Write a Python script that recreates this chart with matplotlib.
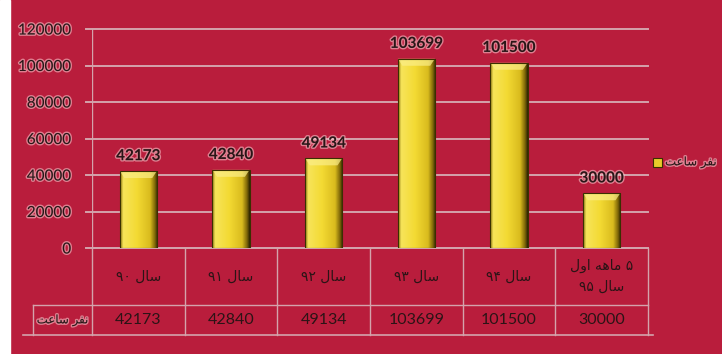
#!/usr/bin/env python3
import matplotlib
matplotlib.use("Agg")
import matplotlib.pyplot as plt
import matplotlib.patheffects as pe
import matplotlib.transforms as mtransforms
import numpy as np
from matplotlib.colors import LinearSegmentedColormap

# data
categories = ["سال ۹۰", "سال ۹۱", "سال ۹۲", "سال ۹۳", "سال ۹۴", "۵ ماهه اول\nسال ۹۵"]
values = [42173, 42840, 49134, 103699, 101500, 30000]
series_name = "نفر ساعت"
yticks = [0, 20000, 40000, 60000, 80000, 100000, 120000]

# tiny arabic shaper (matplotlib has no complex text layout)
FORMS = {  # isolated, final, initial, medial
    "س": "\uFEB1\uFEB2\uFEB3\uFEB4", "ل": "\uFEDD\uFEDE\uFEDF\uFEE0",
    "م": "\uFEE1\uFEE2\uFEE3\uFEE4", "ه": "\uFEE9\uFEEA\uFEEB\uFEEC",
    "ن": "\uFEE5\uFEE6\uFEE7\uFEE8", "ف": "\uFED1\uFED2\uFED3\uFED4",
    "ع": "\uFEC9\uFECA\uFECB\uFECC", "ت": "\uFE95\uFE96\uFE97\uFE98",
    "ا": "\uFE8D\uFE8E", "و": "\uFEED\uFEEE", "ر": "\uFEAD\uFEAE",
}

def shape_word(w):
    if not any(c in FORMS for c in w):
        return w
    out = []
    for i, c in enumerate(w):
        if c not in FORMS:
            out.append(c)
            continue
        prev = w[i - 1] if i > 0 else None
        nxt = w[i + 1] if i < len(w) - 1 else None
        jp = prev in FORMS and len(FORMS[prev]) == 4
        jn = nxt in FORMS and len(FORMS[c]) == 4
        f = FORMS[c]
        out.append(f[3] if jp and jn else f[1] if jp else f[2] if jn else f[0])
    return "".join(out[::-1])

def rtl(s):
    return "\n".join(" ".join(shape_word(w) for w in line.split(" ")[::-1])
                     for line in s.split("\n"))

bg = "#B91D3C"
line_c = "#d4a3ac"
txt_c = "#2b1416"
glow = [pe.withStroke(linewidth=2, foreground=(1, 0.82, 0.84, 0.55))]
num_font = "Lato"
fa_font = ["DejaVu Sans"]

fig = plt.figure(figsize=(7.22, 3.54), dpi=100, facecolor=bg)
fig.patches.append(plt.Rectangle((0, 0), 10 / 722, 1, transform=fig.transFigure,
                                 color="white", zorder=0))
ax = fig.add_axes([92 / 722, 106 / 354, 556 / 722, 219 / 354])
ax.set_facecolor(bg)
ax.set_xlim(-0.5, len(values) - 0.5)
ax.set_ylim(0, 120000)
for s in ax.spines.values():
    s.set_visible(False)
ax.set_xticks([])
ax.set_yticks(yticks)
ax.tick_params(axis="y", length=0, pad=15)
ax.set_yticklabels([str(t) for t in yticks], fontsize=11, color=txt_c,
                   family=num_font)
for lab in ax.get_yticklabels():
    lab.set_path_effects(glow)

# gridlines, slightly extending left like tick marks
for t in yticks:
    ax.plot([-0.565, len(values) - 0.5], [t, t], color=line_c, lw=1.4,
            clip_on=False, zorder=1)
ax.plot([-0.5, -0.5], [0, 120000], color=line_c, lw=1, zorder=1)

# bars with bevel-ish gradient
x = np.arange(len(values))
bw = 0.4
grad = LinearSegmentedColormap.from_list(
    "gold", [(0, "#8a7610"), (0.08, "#f7e45a"), (0.45, "#f3da33"),
             (0.8, "#d9bb1e"), (0.93, "#7d6608"), (1, "#2e2602")])
px_per_y = 219 / 120000
for xi, v in zip(x, values):
    rect = ax.bar(xi, v, width=bw, facecolor="none", edgecolor="#3a3000",
                  lw=0.8, zorder=4)[0]
    im = ax.imshow(np.linspace(0, 1, 64)[None, :], cmap=grad, aspect="auto",
                   extent=(xi - bw / 2, xi + bw / 2, 0, v), zorder=3)
    im.set_clip_path(rect)
    bev = 7 / px_per_y
    ax.fill([xi - bw / 2, xi + bw / 2, xi + bw / 2 - 0.05, xi - bw / 2 + 0.05],
            [v, v, v - bev, v - bev], color="#fbee8a", alpha=0.7, zorder=3.5, lw=0)
    ax.text(xi, v + 4300, str(v), ha="center", va="bottom", fontsize=11,
            fontweight="bold", color=txt_c, family=num_font, path_effects=glow)
ax.set_xlim(-0.5, len(values) - 0.5)

# data table under the plot
tr = mtransforms.blended_transform_factory(ax.transData, ax.transAxes)
y_cat = -57 / 219
y_val = -87 / 219
hdr_x = -0.5 - 59 / 92.67
n = len(values)
for b in np.arange(n + 1) - 0.5:
    ax.plot([b, b], [0, y_val], color=line_c, lw=1, transform=tr, clip_on=False)
ax.plot([-0.5, n - 0.5], [0, 0], color=line_c, lw=1.2, transform=tr, clip_on=False)
ax.plot([hdr_x, n - 0.5], [y_cat, y_cat], color=line_c, lw=1, transform=tr,
        clip_on=False)
ax.plot([hdr_x, hdr_x], [y_cat, y_val], color=line_c, lw=1, transform=tr,
        clip_on=False)
ax.plot([hdr_x - 0.11, n - 0.45], [y_val, y_val], color=line_c, lw=1.2,
        transform=tr, clip_on=False)
for xi, c, v in zip(x, categories, values):
    ax.text(xi, y_cat / 2, rtl(c), ha="center", va="center", fontsize=10,
            color=txt_c, family=fa_font, transform=tr, linespacing=1.6)
    ax.text(xi, (y_cat + y_val) / 2, str(v), ha="center", va="center",
            fontsize=11.5, color=txt_c, family=num_font, transform=tr)
ax.text((hdr_x - 0.5) / 2, (y_cat + y_val) / 2, rtl(series_name), ha="center",
        va="center", fontsize=8.5, color=txt_c, family=fa_font, transform=tr,
        path_effects=glow)

# legend at the right edge
fig.patches.append(plt.Rectangle((653 / 722, 187 / 354), 9 / 722, 9 / 354,
                                 transform=fig.transFigure, facecolor="#e8cc2a",
                                 edgecolor="#3a3000", lw=0.8))
fig.text(665 / 722, 192 / 354, rtl(series_name), ha="left", va="center",
         fontsize=8.5, color=txt_c, family=fa_font, path_effects=glow)

fig.savefig("out.png", dpi=100, facecolor=bg)
